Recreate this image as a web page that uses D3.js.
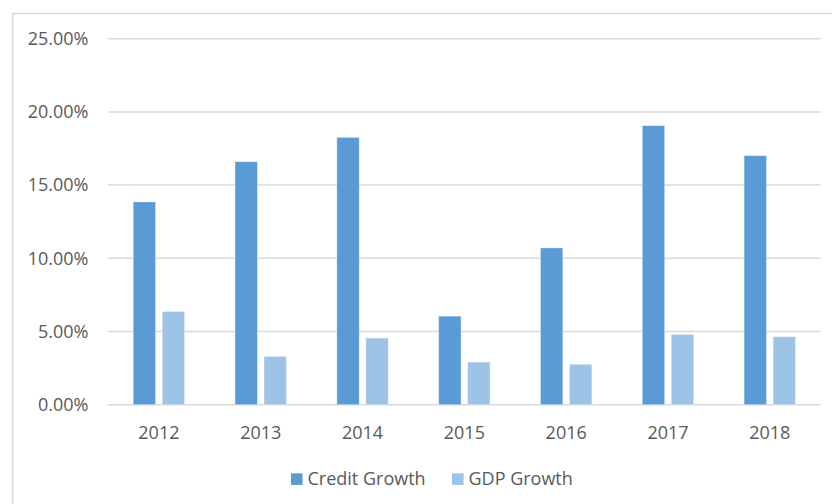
<!DOCTYPE html>
<html>
<head>
<meta charset="utf-8">
<script src="https://cdn.jsdelivr.net/npm/d3@7"></script>
<style>
  html, body { margin: 0; padding: 0; background: #fff; }
  svg { display: block; font-family: "Open Sans", Lato, sans-serif; }
</style>
</head>
<body>
<div id="chart"></div>
<script>
// Credit growth vs GDP growth, clustered columns

const years = ["2012", "2013", "2014", "2015", "2016", "2017", "2018"];
const creditGrowth = [0.1385, 0.166, 0.1826, 0.0605, 0.1071, 0.1906, 0.1701];
const gdpGrowth = [0.0637, 0.0330, 0.0455, 0.0291, 0.0276, 0.0480, 0.0464];
const seriesNames = ["Credit Growth", "GDP Growth"];
const yTicks = [0, 0.05, 0.10, 0.15, 0.20, 0.25];

const width = 832, height = 504;
const margin = { top: 38.7, right: 11.3, bottom: 99.3, left: 108 };
const colors = ["#5b9bd5", "#9dc3e6"];
const font = "'Open Sans', Lato, sans-serif";
const fontSize = 18;

const svg = d3.select("#chart").append("svg")
  .attr("width", width).attr("height", height);

// chart area border (runs off the right/bottom edge)
svg.append("rect")
  .attr("x", 12.5).attr("y", 13.5)
  .attr("width", width + 20).attr("height", height + 20)
  .attr("fill", "none").attr("stroke", "#d9d9d9").attr("stroke-width", 1.5);

const x = d3.scaleBand().domain(years)
  .range([margin.left, width - margin.right]);
const y = d3.scaleLinear().domain([0, 0.25])
  .range([height - margin.bottom, margin.top]);

// gridlines
svg.append("g").selectAll("line").data(yTicks).join("line")
  .attr("x1", margin.left).attr("x2", width - margin.right)
  .attr("y1", d => y(d)).attr("y2", d => y(d))
  .attr("stroke", "#d9d9d9").attr("stroke-width", 1.5);

// y labels
const yAxis = svg.append("g")
  .attr("transform", `translate(88.5,0)`)
  .call(d3.axisLeft(y).tickValues(yTicks).tickFormat(d3.format(".2%")).tickSize(0).tickPadding(0));
yAxis.select(".domain").remove();
yAxis.selectAll("text")
  .attr("fill", "#595959").attr("font-size", fontSize)
  .attr("font-family", font);

// x labels
const xAxis = svg.append("g")
  .attr("transform", `translate(0,${height - margin.bottom})`)
  .call(d3.axisBottom(x).tickSize(0).tickPadding(0));
xAxis.select(".domain").remove();
xAxis.selectAll("text")
  .attr("y", 34.5).attr("dy", 0)
  .attr("fill", "#595959").attr("font-size", fontSize)
  .attr("font-family", font);

// bars
const barW = x.bandwidth() * 0.22;
const gap = x.bandwidth() * 0.065;
const groups = [creditGrowth, gdpGrowth];
groups.forEach((vals, si) => {
  svg.append("g").selectAll("rect").data(vals).join("rect")
    .attr("x", (d, i) => x(years[i]) + x.bandwidth() / 2 + (si === 0 ? -gap / 2 - barW : gap / 2))
    .attr("y", d => y(d))
    .attr("width", barW)
    .attr("height", d => y(0) - y(d))
    .attr("fill", colors[si])
    .attr("stroke", "#ffffff").attr("stroke-opacity", 0.45).attr("stroke-width", 0.8);
});

// legend
const legendItems = [
  { name: seriesNames[0], color: colors[0], x: 291 },
  { name: seriesNames[1], color: colors[1], x: 452 }
];
const lg = svg.append("g").selectAll("g").data(legendItems).join("g")
  .attr("transform", d => `translate(${d.x},473.3)`);
lg.append("rect").attr("width", 11.6).attr("height", 11.6).attr("fill", d => d.color);
lg.append("text")
  .attr("x", 16.5).attr("y", 5.8).attr("dy", "0.35em")
  .attr("fill", "#595959").attr("font-size", fontSize)
  .attr("font-family", font)
  .text(d => d.name);
</script>
</body>
</html>
